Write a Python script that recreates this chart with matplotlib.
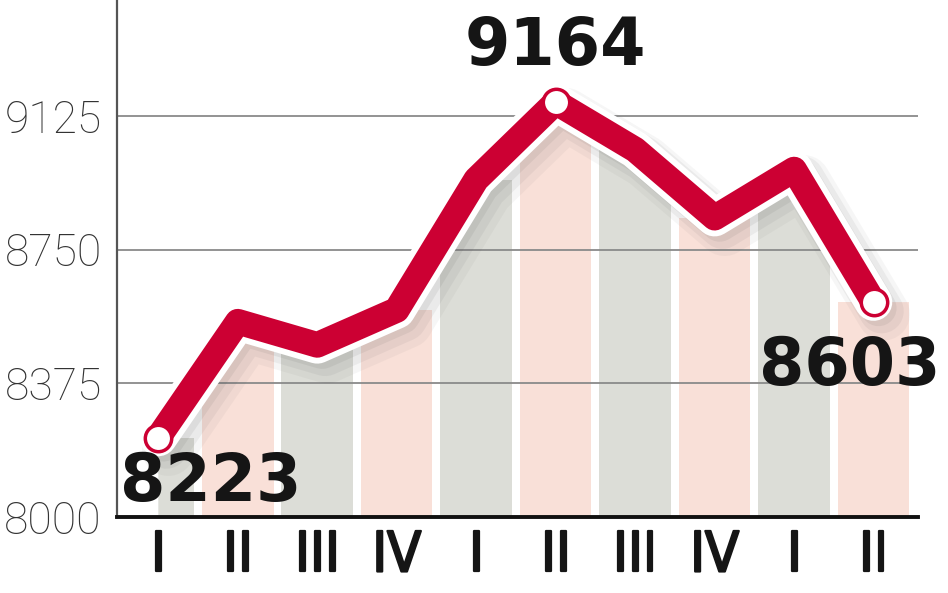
import matplotlib.pyplot as plt
import matplotlib.patheffects as pe
from matplotlib.patches import Polygon
from matplotlib.transforms import offset_copy

quarters = ['I', 'II', 'III', 'IV', 'I', 'II', 'III', 'IV', 'I', 'II']
values = [8223, 8548, 8483, 8581, 8947, 9164, 9031, 8840, 8975, 8603]
y_ticks = [8000, 8375, 8750, 9125, 9500]
marked = [0, 5, 9]
label_offsets = {0: (38, -33), 5: (0, 40), 9: (-17, -47)}  # points

red = '#cc0033'
bar_colors = ['#dcddd7' if i % 2 == 0 else '#f9e0d8' for i in range(len(values))]

fig = plt.figure(figsize=(9.48, 5.93), dpi=100)
ax = fig.add_axes([0.1234, 0.1282, 0.8450, 0.9013])

x = list(range(len(values)))
ax.set_xlim(-0.52, 9.56)
ax.set_ylim(8000, 9500)

# bars are only shown below the line
area = [(0, 8000)] + list(zip(x, values)) + [(9.56, values[-1]), (9.56, 8000)]
clip = Polygon(area, closed=True, transform=ax.transData, visible=False)
ax.add_patch(clip)
bars = ax.bar(x, values, width=0.9, color=bar_colors, zorder=1)
for b in bars:
    b.set_clip_path(clip)

# soft shadow under the line
for dx, dy, lw, a in [(10, -12, 38, 0.05), (8, -9, 32, 0.07), (5, -6, 26, 0.09)]:
    tr = offset_copy(ax.transData, fig=fig, x=dx, y=dy, units='dots')
    ax.plot(x, values, color='#555555', lw=lw, alpha=a, transform=tr,
            solid_joinstyle='round', solid_capstyle='round', zorder=3)

ax.plot(x, values, color='white', lw=27, solid_joinstyle='round',
        solid_capstyle='round', zorder=4)
ax.plot(x, values, color=red, lw=18.5, solid_joinstyle='round',
        solid_capstyle='round', zorder=5)
ax.plot(marked, [values[i] for i in marked], 'o', ms=19, mfc='white',
        mec=red, mew=2.5, zorder=6)

for i in marked:
    ax.annotate(str(values[i]), xy=(i, values[i]), xytext=label_offsets[i],
                textcoords='offset points', ha='center', va='center',
                fontsize=47, fontweight='bold', color='#151515',
                family='DejaVu Sans', zorder=7)

ax.set_yticks(y_ticks)
ax.set_yticklabels([str(t) for t in y_ticks], fontsize=32, color='#333333',
                   family='Roboto', fontweight='light')
ax.set_xticks(x)
ax.set_xticklabels(quarters, fontsize=40, color='#151515',
                   family='DejaVu Sans', fontstretch='condensed')
for lab in ax.get_xticklabels():
    lab.set_path_effects([pe.withStroke(linewidth=1.6, foreground='#151515')])
ax.tick_params(axis='y', length=0, pad=11)
ax.tick_params(axis='x', length=0, pad=9)

ax.set_axisbelow('line')
ax.yaxis.grid(True, color='#8a8a8a', lw=1.3)
ax.xaxis.grid(False)

for s in ['top', 'right']:
    ax.spines[s].set_visible(False)
ax.spines['left'].set_color('#555555')
ax.spines['left'].set_linewidth(1.6)
ax.spines['bottom'].set_color('#111111')
ax.spines['bottom'].set_linewidth(2.8)

fig.savefig('out.png', dpi=100)
